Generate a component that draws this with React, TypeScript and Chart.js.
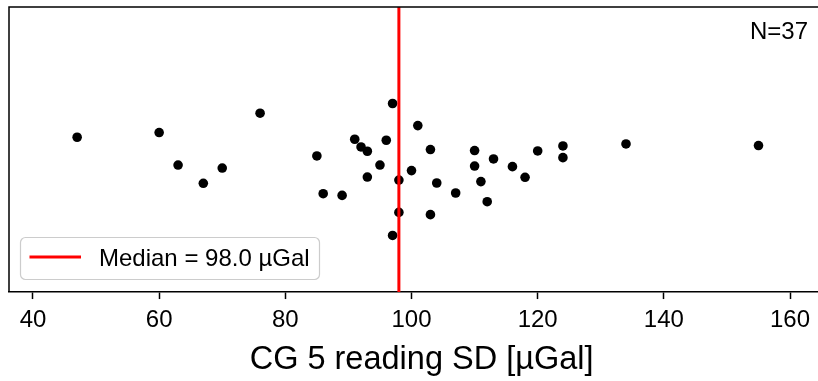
import React, { useEffect, useRef } from "react";
import { Chart, registerables } from "chart.js";

Chart.register(...registerables);

// CG 5 reading SD values [µGal]
const sdValues: number[] = [
  47, 60, 63, 67, 70, 76, 85, 86, 89, 91, 92, 93, 93, 95, 96, 97, 97, 98, 98,
  100, 101, 103, 103, 104, 107, 110, 110, 111, 112, 113, 116, 118, 120, 124, 124, 134, 155,
];
// vertical jitter (arbitrary units) used in the strip plot
const jitter: number[] = [
  0.086, 0.119, -0.109, -0.237, -0.13, 0.255, -0.045, -0.31, -0.322, 0.072, 0.018, -0.012, -0.193, -0.109, 0.065, 0.323, -0.603, -0.214, -0.441,
  -0.148, 0.168, 0.0, -0.457, -0.235, -0.305, -0.007, -0.116, -0.225, -0.366, -0.066, -0.12, -0.195, -0.01, 0.025, -0.057, 0.039, 0.028,
];
const xTicks: number[] = [40, 60, 80, 100, 120, 140, 160];
const xTitle = "CG 5 reading SD [µGal]";

const FONT = "'Liberation Sans', Arial, Helvetica, sans-serif";

function median(a: number[]): number {
  const s = [...a].sort((p, q) => p - q);
  const m = Math.floor(s.length / 2);
  return s.length % 2 ? s[m] : (s[m - 1] + s[m]) / 2;
}

export default function App() {
  const ref = useRef<HTMLCanvasElement>(null);
  useEffect(() => {
    if (!ref.current) return;
    const med = median(sdValues);
    const n = sdValues.length;
    const overlay = {
      id: "overlay",
      afterDraw(chart: any) {
        const { ctx, chartArea } = chart;
        ctx.save();
        // frame
        ctx.strokeStyle = "#000";
        ctx.lineWidth = 1.5;
        ctx.beginPath();
        ctx.moveTo(chartArea.left, chartArea.bottom);
        ctx.lineTo(chartArea.left, chartArea.top);
        ctx.lineTo(chartArea.right + 2, chartArea.top);
        ctx.stroke();
        // N text
        ctx.fillStyle = "#000";
        ctx.font = `24px ${FONT}`;
        ctx.textAlign = "right";
        ctx.textBaseline = "alphabetic";
        ctx.fillText(`N=${n}`, 808, 39);
        // legend
        const lx = 20.5, ly = 237.5, lw = 299, lh = 42, r = 5;
        ctx.beginPath();
        ctx.moveTo(lx + r, ly);
        ctx.lineTo(lx + lw - r, ly);
        ctx.arcTo(lx + lw, ly, lx + lw, ly + r, r);
        ctx.lineTo(lx + lw, ly + lh - r);
        ctx.arcTo(lx + lw, ly + lh, lx + lw - r, ly + lh, r);
        ctx.lineTo(lx + r, ly + lh);
        ctx.arcTo(lx, ly + lh, lx, ly + lh - r, r);
        ctx.lineTo(lx, ly + r);
        ctx.arcTo(lx, ly, lx + r, ly, r);
        ctx.closePath();
        ctx.fillStyle = "rgba(255,255,255,0.8)";
        ctx.fill();
        ctx.strokeStyle = "#cccccc";
        ctx.lineWidth = 1.2;
        ctx.stroke();
        ctx.strokeStyle = "#ff0000";
        ctx.lineWidth = 3;
        ctx.beginPath();
        ctx.moveTo(29.5, 257);
        ctx.lineTo(81, 257);
        ctx.stroke();
        ctx.fillStyle = "#000";
        ctx.textAlign = "left";
        ctx.textBaseline = "alphabetic";
        ctx.fillText(`Median = ${med.toFixed(1)} µGal`, 99, 266);
        ctx.restore();
      },
    };
    const chart = new Chart(ref.current, {
      type: "scatter",
      data: {
        datasets: [
          {
            type: "line",
            data: [
              { x: med, y: -1 },
              { x: med, y: 1 },
            ],
            borderColor: "#ff0000",
            borderWidth: 3,
            pointRadius: 0,
            order: 0,
          } as any,
          {
            data: sdValues.map((v, i) => ({ x: v, y: jitter[i] })),
            backgroundColor: "#000",
            borderColor: "#000",
            pointRadius: 4.8,
            borderWidth: 0,
            order: 1,
          },
        ],
      },
      options: {
        animation: false,
        responsive: false,
        layout: { padding: { left: 9, top: 7, right: 0, bottom: 0 } },
        plugins: { legend: { display: false }, tooltip: { enabled: false } },
        scales: {
          x: {
            type: "linear",
            min: 36.2,
            max: 167.0,
            afterBuildTicks: (axis: any) => {
              axis.ticks = xTicks.map((v) => ({ value: v }));
            },
            grid: { display: true, drawOnChartArea: false, drawTicks: true, tickLength: 7, tickWidth: 1.5, tickColor: "#000" },
            border: { display: true, color: "#000", width: 1.5 },
            ticks: { color: "#000", font: { family: FONT, size: 24, lineHeight: 1.0 }, padding: 9.6, maxRotation: 0 },
            title: {
              display: true,
              text: xTitle,
              color: "#000",
              font: { family: FONT, size: 32.5, lineHeight: 1.1 },
              padding: { top: 0, bottom: 3 },
            },
          },
          y: { type: "linear", display: false, min: -1, max: 1 },
        },
      },
      plugins: [overlay],
    });
    return () => chart.destroy();
  }, []);
  return (
    <div style={{ position: "absolute", left: 0, top: 0, width: 818, height: 381, overflow: "hidden", background: "#fff" }}>
      <canvas ref={ref} width={839} height={381} style={{ width: 839, height: 381, display: "block" }} />
    </div>
  );
}
